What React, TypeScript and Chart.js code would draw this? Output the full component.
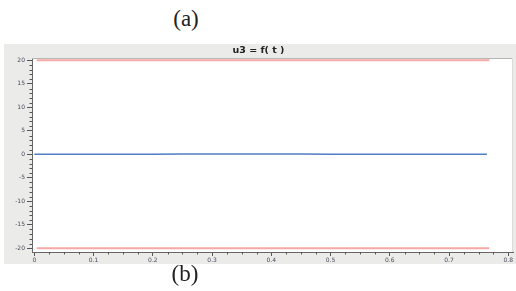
import React, { useEffect, useRef } from "react";
import { Chart, registerables } from "chart.js";

Chart.register(...registerables);

// ---- data ----
const timeSec = [0, 0.05, 0.1, 0.15, 0.2, 0.25, 0.3, 0.35, 0.4, 0.45, 0.5, 0.55, 0.6, 0.65, 0.7, 0.764];
const u3Values = [0, 0, 0, 0, 0.03, 0.05, 0.05, 0.05, 0.05, 0.05, 0.02, 0, 0, 0, 0, 0];
const limitTime = [0.004, 0.768];
const upperLimit = [20, 20];
const lowerLimit = [-20, -20];
const xTickValues = [0, 0.1, 0.2, 0.3, 0.4, 0.5, 0.6, 0.7, 0.8];
const yTickValues = [-20, -15, -10, -5, 0, 5, 10, 15, 20];
const xMinorStep = 0.025;
const yMinorStep = 1;
const chartTitle = "u3 = f( t )";

const panelPlugin = {
  id: "panelPlugin",
  beforeDraw(chart: any) {
    const { ctx, chartArea: a, width, height } = chart;
    ctx.save();
    ctx.fillStyle = "#ebecea";
    ctx.fillRect(0, 0, width, height);
    ctx.fillStyle = "#ffffff";
    ctx.fillRect(a.left, a.top, a.right - a.left, a.bottom - a.top);
    ctx.restore();
  },
  afterDraw(chart: any) {
    const { ctx, chartArea: a } = chart;
    const xs = chart.scales.x;
    const ys = chart.scales.y;
    ctx.save();
    ctx.strokeStyle = "#b4b6b4";
    ctx.lineWidth = 1;
    ctx.beginPath();
    ctx.moveTo(a.left, a.top + 0.5);
    ctx.lineTo(a.right, a.top + 0.5);
    ctx.stroke();
    ctx.strokeStyle = "#dcdcdc";
    ctx.beginPath();
    ctx.moveTo(a.right - 0.5, a.top);
    ctx.lineTo(a.right - 0.5, a.bottom);
    ctx.stroke();
    ctx.strokeStyle = "#555";
    ctx.beginPath();
    for (let v = yTickValues[0]; v <= yTickValues[yTickValues.length - 1] + 1e-9; v += yMinorStep) {
      if (Math.abs(v % 5) < 1e-9) continue;
      const py = Math.round(ys.getPixelForValue(v)) + 0.5;
      ctx.moveTo(a.left - 2.5, py);
      ctx.lineTo(a.left, py);
    }
    for (let v = xTickValues[0]; v <= xTickValues[xTickValues.length - 1] + 1e-9; v += xMinorStep) {
      if (Math.abs(v / 0.1 - Math.round(v / 0.1)) < 1e-6) continue;
      const px = Math.round(xs.getPixelForValue(v)) + 0.5;
      ctx.moveTo(px, a.bottom);
      ctx.lineTo(px, a.bottom + 2.5);
    }
    ctx.stroke();
    ctx.restore();
  },
};

function ChartPanel() {
  const ref = useRef<HTMLCanvasElement | null>(null);
  useEffect(() => {
    if (!ref.current) return;
    const chart = new Chart(ref.current, {
      type: "line",
      data: {
        datasets: [
          {
            label: "upper",
            data: limitTime.map((t, i) => ({ x: t, y: upperLimit[i] })),
            borderColor: "#f6a9a6",
            borderWidth: 2,
            pointRadius: 0,
          },
          {
            label: "lower",
            data: limitTime.map((t, i) => ({ x: t, y: lowerLimit[i] })),
            borderColor: "#f6a9a6",
            borderWidth: 2,
            pointRadius: 0,
          },
          {
            label: "u3",
            data: timeSec.map((t, i) => ({ x: t, y: u3Values[i] })),
            borderColor: "#4f7ec4",
            borderWidth: 1.5,
            pointRadius: 0,
          },
        ],
      },
      options: {
        animation: false,
        responsive: false,
        maintainAspectRatio: false,
        layout: { padding: { left: 0, right: 3, top: 0, bottom: 0 } },
        plugins: {
          legend: { display: false },
          tooltip: { enabled: false },
          title: {
            display: true,
            text: chartTitle,
            color: "#222",
            font: { family: "DejaVu Sans", size: 9.5, weight: "bold", lineHeight: 1.2 },
            padding: { top: 1, bottom: 1.6 },
          },
        },
        scales: {
          x: {
            type: "linear",
            min: -0.004,
            max: 0.808,
            afterBuildTicks: (s: any) => {
              s.ticks = xTickValues.map((v) => ({ value: v }));
            },
            afterFit: (s: any) => {
              s.height = 12;
            },
            ticks: {
              autoSkip: false,
              maxRotation: 0,
              padding: 1,
              color: "#4a4a5a",
              font: { family: "DejaVu Sans", size: 6 },
              callback: (v: any) => String(Number(Number(v).toFixed(2))),
            },
            grid: { drawOnChartArea: false, drawTicks: true, tickLength: 4, color: "#555" },
            border: { display: true, color: "#666" },
          },
          y: {
            type: "linear",
            min: -20.8,
            max: 20.5,
            afterBuildTicks: (s: any) => {
              s.ticks = yTickValues.map((v) => ({ value: v }));
            },
            afterFit: (s: any) => {
              s.width = 28;
            },
            ticks: {
              autoSkip: false,
              padding: 2,
              color: "#4a4a5a",
              font: { family: "DejaVu Sans", size: 6 },
              callback: (v: any) => String(v),
            },
            grid: { drawOnChartArea: false, drawTicks: true, tickLength: 5, color: "#555" },
            border: { display: true, color: "#666" },
          },
        },
      },
      plugins: [panelPlugin],
    } as any);
    return () => chart.destroy();
  }, []);
  return <canvas ref={ref} width={512} height={220} style={{ display: "block", width: 512, height: 220 }} />;
}

export default function App() {
  return (
    <div style={{ position: "fixed", left: 0, top: 0, width: 516, height: 291, background: "#fff", overflow: "hidden" }}>
      <div
        style={{
          position: "absolute",
          left: 186,
          top: 18,
          transform: "translate(-50%, -50%)",
          fontFamily: "'Liberation Serif', serif",
          fontSize: 23,
          lineHeight: 1,
          color: "#222",
        }}
      >
        (a)
      </div>
      <div style={{ position: "absolute", left: 4, top: 44 }}>
        <ChartPanel />
      </div>
      <div
        style={{
          position: "absolute",
          left: 185,
          top: 273,
          transform: "translate(-50%, -50%)",
          fontFamily: "'Liberation Serif', serif",
          fontSize: 23,
          lineHeight: 1,
          color: "#222",
        }}
      >
        (b)
      </div>
    </div>
  );
}
